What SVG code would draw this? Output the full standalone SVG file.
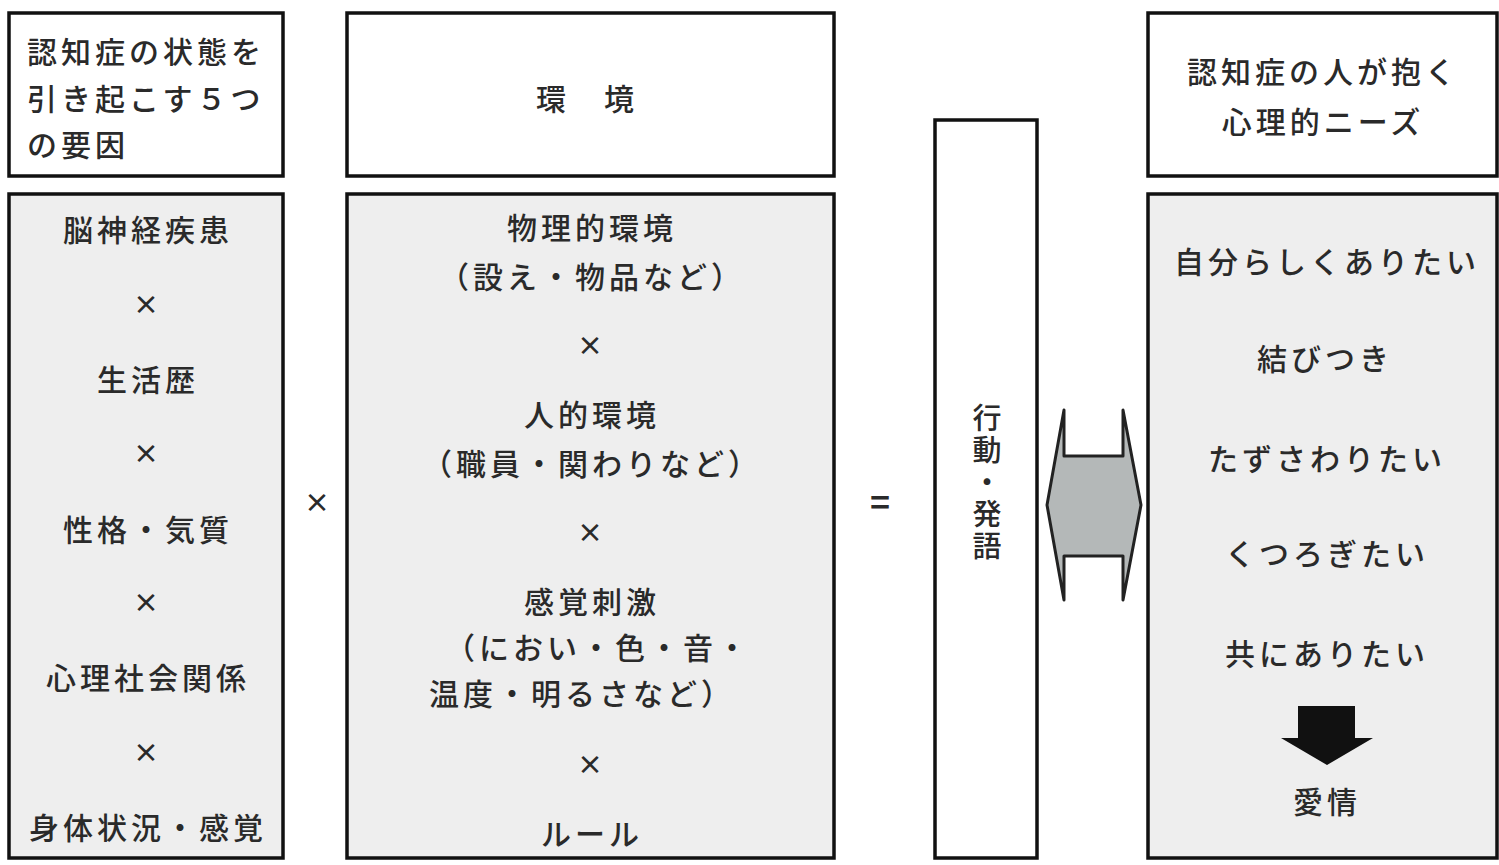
<svg xmlns="http://www.w3.org/2000/svg" width="1499" height="865" viewBox="0 0 1499 865">
<style>
.hdr{fill:#ffffff;stroke:#111;stroke-width:3.5}
.body{fill:#eeeeee;stroke:#111;stroke-width:3.5}
text{font-family:"Noto Sans CJK JP","Noto Sans",sans-serif;font-size:30px;font-weight:500;fill:#2a2a2a;dominant-baseline:central;letter-spacing:4px}
.c{text-anchor:middle}
.op{font-size:26px;letter-spacing:0;font-weight:700}
.v{font-size:29px;letter-spacing:3px;writing-mode:vertical-rl;text-anchor:start}
</style>
<rect width="1499" height="865" fill="#ffffff"/>
<g id="factors-header">
<rect class="hdr" x="9" y="13" width="274" height="163"/>
<text x="27" y="50">認知症の状態を</text>
<text x="27" y="97">引き起こす５つ</text>
<text x="27" y="143">の要因</text>
</g>
<g id="factors-body">
<rect class="body" x="9" y="194" width="274" height="664"/>
<text class="c" x="148" y="228">脳神経疾患</text>
<text class="c op" x="146" y="302">×</text>
<text class="c" x="148" y="378">生活歴</text>
<text class="c op" x="146" y="451">×</text>
<text class="c" x="148" y="528">性格・気質</text>
<text class="c op" x="146" y="600">×</text>
<text class="c" x="148" y="676">心理社会関係</text>
<text class="c op" x="146" y="750">×</text>
<text class="c" x="148" y="826">身体状況・感覚</text>
</g>
<g id="env-header">
<rect class="hdr" x="347" y="13" width="487" height="163"/>
<text class="c" x="587" y="97">環　境</text>
</g>
<g id="env-body">
<rect class="body" x="347" y="194" width="487" height="664"/>
<text class="c" x="592" y="226">物理的環境</text>
<text class="c" x="592" y="275">（設え・物品など）</text>
<text class="c op" x="590" y="343">×</text>
<text class="c" x="592" y="413">人的環境</text>
<text class="c" x="592" y="462">（職員・関わりなど）</text>
<text class="c op" x="590" y="530">×</text>
<text class="c" x="592" y="600">感覚刺激</text>
<text class="c" x="598" y="646">（におい・色・音・</text>
<text class="c" x="582" y="692">温度・明るさなど）</text>
<text class="c op" x="590" y="762">×</text>
<text class="c" x="592" y="832">ルール</text>
</g>
<g id="op-times">
<text class="c op" x="317" y="500">×</text>
</g>
<g id="op-equals">
<text class="c op" x="880" y="500" style="font-size:34px">=</text>
</g>
<g id="behavior">
<rect class="hdr" x="935" y="120" width="102" height="738"/>
<text class="v" x="987" y="403">行動・発語</text>
</g>
<g id="needs-header">
<rect class="hdr" x="1148" y="13" width="349" height="163"/>
<text class="c" x="1323" y="70">認知症の人が抱く</text>
<text class="c" x="1323" y="120">心理的ニーズ</text>
</g>
<g id="needs-body">
<rect class="body" x="1148" y="194" width="349" height="664"/>
<text class="c" x="1327" y="260">自分らしくありたい</text>
<text class="c" x="1325" y="357">結びつき</text>
<text class="c" x="1327" y="457">たずさわりたい</text>
<text class="c" x="1327" y="552">くつろぎたい</text>
<text class="c" x="1327" y="652">共にありたい</text>
<polygon points="1298,706 1355,706 1355,738 1373,738 1327,765 1281,738 1298,738" fill="#111"/>
<text class="c" x="1327" y="800">愛情</text>
</g>
<g id="connectors">
<polygon points="1047,505 1064,410 1064,456 1123,456 1123,410 1141,505 1123,600 1123,556 1064,556 1064,600" fill="#b4b8b8" stroke="#222" stroke-width="3" stroke-linejoin="round"/>
</g>
</svg>
